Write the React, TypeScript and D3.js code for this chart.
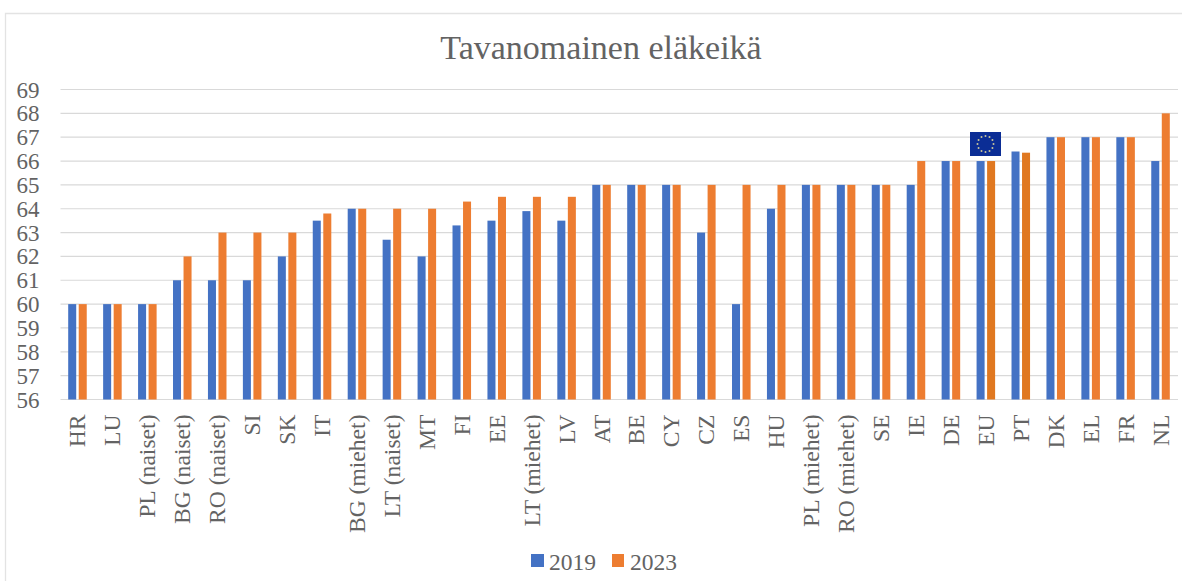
import React from "react";
import * as d3 from "d3";

const categories = ["HR","LU","PL (naiset)","BG (naiset)","RO (naiset)","SI","SK","IT","BG (miehet)","LT (naiset)","MT","FI","EE","LT (miehet)","LV","AT","BE","CY","CZ","ES","HU","PL (miehet)","RO (miehet)","SE","IE","DE","EU","PT","DK","EL","FR","NL"];
const values2019 = [60,60,60,61,61,61,62,63.5,64,62.7,62,63.3,63.5,63.9,63.5,65,65,65,63,60,64,65,65,65,65,66,66,66.4,67,67,67,66];
const values2023 = [60,60,60,62,63,63,63,63.8,64,64,64,64.3,64.5,64.5,64.5,65,65,65,65,65,65,65,65,65,66,66,66,66.35,67,67,67,68];
const yTicks = d3.range(56, 70);
const seriesNames = ["2019","2023"];
const darkerOrange = ["EU","PT"];
const title = "Tavanomainen eläkeikä";

const W = 1182, H = 581;
const BLUE = "#4472C4", ORANGE = "#ED7D31", DARK_ORANGE = "#E07820";
const TEXT = "#636363", FONT = "'Liberation Serif', serif";

export default function App() {
  const x = d3.scaleBand<string>().domain(categories).range([60, 1178]);
  const y = d3.scaleLinear().domain([56, 69]).range([399.5, 89.5]);
  const sub = d3.scaleBand<string>().domain(seriesNames).range([8.2, x.bandwidth() - 8.2]).paddingInner(0.238);
  const stars = d3.range(12).map(i => (i * Math.PI) / 6);
  return (
    <svg width={W} height={H} style={{ position: "fixed", left: 0, top: 0, display: "block", background: "#fff" }}>
      <path d="M5.5 581V13.5H1182" fill="none" stroke="#E3E3E3" strokeWidth={1.3} />
      <text x={601} y={59} textAnchor="middle" fontFamily={FONT} fontSize={34} fill={TEXT}>{title}</text>
      {yTicks.map(t => (
        <g key={t}>
          <line x1={60.5} x2={1178} y1={y(t)} y2={y(t)} stroke="#D9D9D9" strokeWidth={1.2} />
          <text x={39.5} y={y(t) + 8} textAnchor="end" fontFamily={FONT} fontSize={23} fill={TEXT}>{t}</text>
        </g>
      ))}
      {categories.map((c, i) => {
        const x0 = x(c)!;
        return (
          <g key={c}>
            <rect x={x0 + sub("2019")!} width={sub.bandwidth()} y={y(values2019[i])} height={y(56) - y(values2019[i])} fill={BLUE} />
            <rect x={x0 + sub("2023")!} width={sub.bandwidth()} y={y(values2023[i])} height={y(56) - y(values2023[i])} fill={darkerOrange.includes(c) ? DARK_ORANGE : ORANGE} />
            <text transform={`translate(${x0 + x.bandwidth() / 2 + 8},414.5) rotate(-90)`} textAnchor="end" fontFamily={FONT} fontSize={23.6} fill={TEXT}>{c}</text>
          </g>
        );
      })}
      <g>
        <rect x={970} y={132} width={31} height={24} fill="#0B2D95" />
        {stars.map((a, i) => (
          <circle key={i} cx={985.5 + 8 * Math.sin(a)} cy={144 - 8 * Math.cos(a)} r={1} fill="#C9C59A" />
        ))}
      </g>
      <rect x={531} y={554} width={13} height={13} fill={BLUE} />
      <text x={549} y={570} fontFamily={FONT} fontSize={23.5} fill={TEXT}>{seriesNames[0]}</text>
      <rect x={612} y={554} width={12} height={13} fill={ORANGE} />
      <text x={630} y={570} fontFamily={FONT} fontSize={23.5} fill={TEXT}>{seriesNames[1]}</text>
    </svg>
  );
}
